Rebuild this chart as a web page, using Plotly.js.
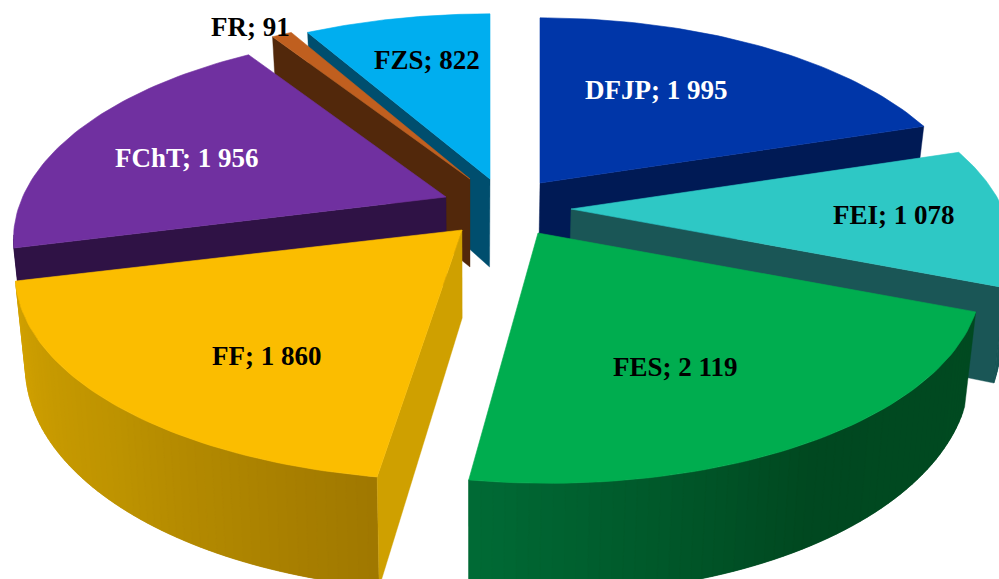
<!DOCTYPE html>
<html>
<head>
<meta charset="utf-8">
<script src="https://cdn.plot.ly/plotly-3.0.1.min.js"></script>
<style>html,body{margin:0;padding:0;background:#fff;overflow:hidden}#chart{width:999px;height:579px}</style>
</head>
<body>
<div id="chart"></div>
<script>
// Data
const categories = ["DFJP", "FEI", "FES", "FF", "FChT", "FR", "FZS"];
const values = [1995, 1078, 2119, 1860, 1956, 91, 822];

// Styles
const topColors = ["#0036A8", "#2EC8C5", "#00AD4F", "#FBBD00", "#7030A0", "#C05F1F", "#00AEEF"];
const faceColors = ["#001A55", "#1A5656", "#00562A", "#CFA000", "#2F1245", "#52280B", "#004E6E"];
const rimStart = ["#001A55", "#1A5656", "#004A20", "#A07800", "#2F1245", "#52280B", "#004E6E"];
const rimMiddle = ["#001A55", "#1A5656", "#004820", "#BE9300", "#2F1245", "#52280B", "#004E6E"];
const rimEnd = ["#001A55", "#1A5656", "#006A35", "#D2A200", "#2F1245", "#52280B", "#004E6E"];
const labelColors = ["#FFFFFF", "#000000", "#000000", "#000000", "#FFFFFF", "#000000", "#000000"];

// Layout of the exploded slices (apex of each slice on the page)
const apexX = [540, 571, 538, 462, 446, 470, 490];
const apexY = [183, 209, 233, 230, 197, 179, 179];
const sliceScale = [0.99, 1, 1, 1.01, 0.98, 0.98, 1];
const sliceShear = [0, 0, 0.04, -0.02, 0, 0, 0];
const labelX = [656, 894, 675, 266, 187, 250, 427];
const labelY = [90, 215, 367, 356, 158, 27, 60];
const drawOrder = [6, 5, 4, 0, 1, 2, 3];
const radiusX = 432, radiusY = 199, persp = 0.205, depth = 88, rimSteps = 60;
const vanishX = 470, converge = 0.022;

const total = values.reduce((a, b) => a + b, 0);
function project(i, angle, r) {
  const u = Math.sin(angle) * r * sliceScale[i], v = -Math.cos(angle) * r;
  const s = 1 / (1 - persp * v);
  const dy = v * radiusY * s;
  return {x: apexX[i] + u * radiusX * s + sliceShear[i] * dy, y: apexY[i] + dy, s: s};
}
function below(p) {
  return {x: p.x + (vanishX - p.x) * converge, y: p.y + depth * p.s};
}
function hex(c) { return [1, 3, 5].map(k => parseInt(c.substr(k, 2), 16)); }
function mix(a, b, t) {
  const p = hex(a), q = hex(b);
  return "rgb(" + p.map((n, k) => Math.round(n + (q[k] - n) * t)).join(",") + ")";
}
function rimColor(i, t) {
  return t < 0.5 ? mix(rimStart[i], rimMiddle[i], t * 2) : mix(rimMiddle[i], rimEnd[i], (t - 0.5) * 2);
}
function poly(xs, ys, color, width) {
  return {type: "scatter", mode: "lines", x: xs, y: ys, fill: "toself", fillcolor: color,
          line: {color: color, width: width}, hoverinfo: "skip", showlegend: false};
}
function quad(a, b, color) {
  const c = below(b), d = below(a);
  return poly([a.x, b.x, c.x, d.x, a.x], [a.y, b.y, c.y, d.y, a.y], color, 0.4);
}

const starts = [];
values.reduce((acc, v, i) => { starts[i] = acc; return acc + v; }, 0);

const traces = [];
drawOrder.forEach(i => {
  const a0 = starts[i] / total * 2 * Math.PI;
  const a1 = (starts[i] + values[i]) / total * 2 * Math.PI;
  const apex = project(i, 0, 0);
  const rim = [];
  for (let k = 0; k <= rimSteps; k++) rim.push(project(i, a0 + (a1 - a0) * k / rimSteps, 1));
  const first = rim[0], last = rim[rimSteps];

  // side faces that look towards the viewer
  if (last.x > apex.x) traces.push(quad(last, apex, faceColors[i]));
  for (let k = 0; k < rimSteps; k++) {
    if (rim[k + 1].x < rim[k].x) {
      // each strip reaches into the next one, which paints over it: no seams
      const next = rim[Math.min(k + 2, rimSteps)];
      traces.push(quad(rim[k], next, rimColor(i, k / (rimSteps - 1))));
    }
  }
  if (first.x < apex.x) traces.push(quad(apex, first, faceColors[i]));

  // top face
  traces.push(poly([apex.x].concat(rim.map(p => p.x), [apex.x]),
                   [apex.y].concat(rim.map(p => p.y), [apex.y]), topColors[i], 0.6));
});

const fmt = v => String(v).replace(/\B(?=(\d{3})+$)/g, " ");
const annotations = categories.map((c, i) => ({
  x: labelX[i], y: labelY[i], xref: "x", yref: "y", showarrow: false,
  text: c + "; " + fmt(values[i]),
  font: {family: "Liberation Serif, serif", size: 27, color: labelColors[i], weight: 700}
}));

const hidden = {visible: false, fixedrange: true};
Plotly.newPlot("chart", traces, {
  width: 999, height: 579,
  margin: {l: 0, r: 0, t: 0, b: 0},
  paper_bgcolor: "#FFFFFF", plot_bgcolor: "#FFFFFF",
  showlegend: false,
  xaxis: Object.assign({range: [0, 999]}, hidden),
  yaxis: Object.assign({range: [579, 0]}, hidden),
  annotations: annotations
}, {displayModeBar: false, staticPlot: true});
</script>
</body>
</html>
